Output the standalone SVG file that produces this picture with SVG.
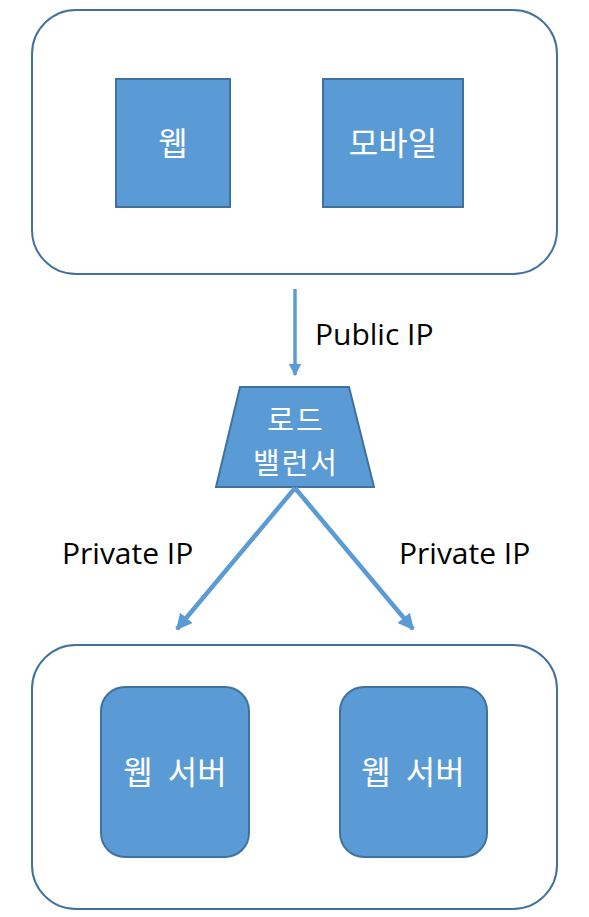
<svg xmlns="http://www.w3.org/2000/svg" width="589" height="917" viewBox="0 0 589 917">
<style>
.box{fill:#fff;stroke:#41719C;stroke-width:2}
.node{fill:#5B9BD5;stroke:#41719C;stroke-width:2}
.nt{fill:#fff;font-family:"Noto Sans CJK KR","Noto Sans",sans-serif;text-anchor:middle;font-size:32px}
.lbt{font-size:29px;letter-spacing:2px}
.lbl{fill:#000;font-family:"Open Sans","Noto Sans",sans-serif;font-size:30px}
.conn{stroke:#5B9BD5;fill:none}
</style>
<defs>
<marker id="ah" viewBox="0 0 10 10" refX="9" refY="5" markerWidth="3.6" markerHeight="3.6" orient="auto" markerUnits="strokeWidth">
<path d="M0,0 L10,5 L0,10 z" fill="#5B9BD5"/>
</marker>
</defs>
<rect class="box" x="32" y="10" width="525" height="264" rx="44"/>
<rect class="box" x="32" y="645" width="525" height="264" rx="44"/>
<g id="web">
<rect class="node" x="116" y="79" width="114" height="128"/>
<text class="nt" x="173" y="155">웹</text>
</g>
<g id="mobile">
<rect class="node" x="323" y="79" width="140" height="128"/>
<text class="nt" x="393" y="155">모바일</text>
</g>
<g id="lb">
<polygon class="node" points="240,387 349,387 374,487 216,487"/>
<text class="nt lbt" x="296" y="431">로드</text>
<text class="nt lbt" x="296" y="474">밸런서</text>
</g>
<g id="server1">
<rect class="node" x="101" y="687" width="148" height="170" rx="24"/>
<text class="nt" x="175" y="784" word-spacing="8">웹 서버</text>
</g>
<g id="server2">
<rect class="node" x="340" y="687" width="147" height="170" rx="24"/>
<text class="nt" x="413" y="784" word-spacing="8">웹 서버</text>
</g>
<g id="connectors">
<line class="conn" x1="295" y1="289" x2="295" y2="375" stroke-width="3.5" marker-end="url(#ah)"/>
<line class="conn" x1="295" y1="488" x2="177" y2="629" stroke-width="4.5" marker-end="url(#ah)"/>
<line class="conn" x1="295" y1="488" x2="413" y2="629" stroke-width="4.5" marker-end="url(#ah)"/>
</g>
<text class="lbl" x="315" y="345">Public IP</text>
<text class="lbl" x="62" y="564">Private IP</text>
<text class="lbl" x="399" y="564">Private IP</text>
</svg>
